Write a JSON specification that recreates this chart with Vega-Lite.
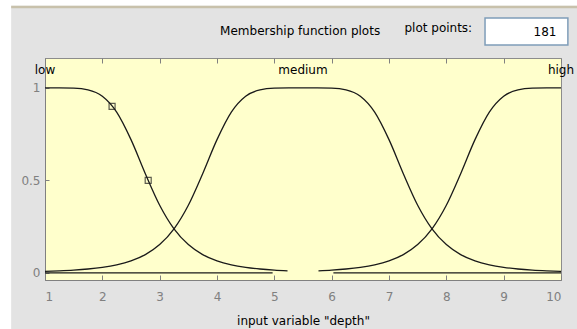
{
  "$schema": "https://vega.github.io/schema/vega-lite/v6.json",
  "width": 516,
  "height": 222,
  "autosize": {"type": "none"},
  "padding": {"left": 45, "top": 58, "right": 16, "bottom": 49},
  "background": "#e3e3e3",
  "config": {
    "view": {"fill": "#ffffcc", "stroke": "#8c8c8c", "strokeWidth": 1},
    "font": "DejaVu Sans"
  },
  "resolve": {"axis": {"x": "independent"}},
  "datasets": {
    "curves": [
      {"mf": "low", "x": 1, "y": 1},
      {"mf": "low", "x": 1.25, "y": 1},
      {"mf": "low", "x": 1.5, "y": 0.9987},
      {"mf": "low", "x": 1.75, "y": 0.9896},
      {"mf": "low", "x": 2, "y": 0.9551},
      {"mf": "low", "x": 2.25, "y": 0.8694},
      {"mf": "low", "x": 2.5, "y": 0.7207},
      {"mf": "low", "x": 2.75, "y": 0.5366},
      {"mf": "low", "x": 3, "y": 0.3663},
      {"mf": "low", "x": 3.25, "y": 0.2386},
      {"mf": "low", "x": 3.5, "y": 0.1534},
      {"mf": "low", "x": 3.75, "y": 0.0994},
      {"mf": "low", "x": 4, "y": 0.0656},
      {"mf": "low", "x": 4.25, "y": 0.0442},
      {"mf": "low", "x": 4.5, "y": 0.0305},
      {"mf": "low", "x": 4.75, "y": 0.0215},
      {"mf": "low", "x": 5, "y": 0.0155},
      {"mf": "low", "x": 5.23, "y": 0.0117},
      {"mf": "medium", "x": 1, "y": 0.0084},
      {"mf": "medium", "x": 1.25, "y": 0.0114},
      {"mf": "medium", "x": 1.5, "y": 0.0155},
      {"mf": "medium", "x": 1.75, "y": 0.0215},
      {"mf": "medium", "x": 2, "y": 0.0305},
      {"mf": "medium", "x": 2.25, "y": 0.0442},
      {"mf": "medium", "x": 2.5, "y": 0.0656},
      {"mf": "medium", "x": 2.75, "y": 0.0994},
      {"mf": "medium", "x": 3, "y": 0.1534},
      {"mf": "medium", "x": 3.25, "y": 0.2386},
      {"mf": "medium", "x": 3.5, "y": 0.3663},
      {"mf": "medium", "x": 3.75, "y": 0.5366},
      {"mf": "medium", "x": 4, "y": 0.7207},
      {"mf": "medium", "x": 4.25, "y": 0.8694},
      {"mf": "medium", "x": 4.5, "y": 0.9551},
      {"mf": "medium", "x": 4.75, "y": 0.9896},
      {"mf": "medium", "x": 5, "y": 0.9987},
      {"mf": "medium", "x": 5.25, "y": 1},
      {"mf": "medium", "x": 5.5, "y": 1},
      {"mf": "medium", "x": 5.75, "y": 1},
      {"mf": "medium", "x": 6, "y": 0.9987},
      {"mf": "medium", "x": 6.25, "y": 0.9896},
      {"mf": "medium", "x": 6.5, "y": 0.9551},
      {"mf": "medium", "x": 6.75, "y": 0.8694},
      {"mf": "medium", "x": 7, "y": 0.7207},
      {"mf": "medium", "x": 7.25, "y": 0.5366},
      {"mf": "medium", "x": 7.5, "y": 0.3663},
      {"mf": "medium", "x": 7.75, "y": 0.2386},
      {"mf": "medium", "x": 8, "y": 0.1534},
      {"mf": "medium", "x": 8.25, "y": 0.0994},
      {"mf": "medium", "x": 8.5, "y": 0.0656},
      {"mf": "medium", "x": 8.75, "y": 0.0442},
      {"mf": "medium", "x": 9, "y": 0.0305},
      {"mf": "medium", "x": 9.25, "y": 0.0215},
      {"mf": "medium", "x": 9.5, "y": 0.0155},
      {"mf": "medium", "x": 9.75, "y": 0.0114},
      {"mf": "medium", "x": 10, "y": 0.0084},
      {"mf": "high", "x": 5.77, "y": 0.0117},
      {"mf": "high", "x": 6, "y": 0.0155},
      {"mf": "high", "x": 6.25, "y": 0.0215},
      {"mf": "high", "x": 6.5, "y": 0.0305},
      {"mf": "high", "x": 6.75, "y": 0.0442},
      {"mf": "high", "x": 7, "y": 0.0656},
      {"mf": "high", "x": 7.25, "y": 0.0994},
      {"mf": "high", "x": 7.5, "y": 0.1534},
      {"mf": "high", "x": 7.75, "y": 0.2386},
      {"mf": "high", "x": 8, "y": 0.3663},
      {"mf": "high", "x": 8.25, "y": 0.5366},
      {"mf": "high", "x": 8.5, "y": 0.7207},
      {"mf": "high", "x": 8.75, "y": 0.8694},
      {"mf": "high", "x": 9, "y": 0.9551},
      {"mf": "high", "x": 9.25, "y": 0.9896},
      {"mf": "high", "x": 9.5, "y": 0.9987},
      {"mf": "high", "x": 9.75, "y": 1},
      {"mf": "high", "x": 10, "y": 1},
      {"mf": "high-tail", "x": 1, "y": 0},
      {"mf": "high-tail", "x": 4.97, "y": 0},
      {"mf": "low-tail", "x": 6.03, "y": 0},
      {"mf": "low-tail", "x": 10, "y": 0}
    ],
    "handles": [
      {"x": 2.17, "y": 0.9},
      {"x": 2.8, "y": 0.5}
    ],
    "names": [
      {"x": 1, "y": 1.097, "label": "low"},
      {"x": 5.5, "y": 1.097, "label": "medium"},
      {"x": 10, "y": 1.097, "label": "high"}
    ],
    "header": [
      {"x": 5.45, "y": 1.308, "label": "Membership function plots"},
      {"x": 7.86, "y": 1.322, "label": "plot points:"}
    ],
    "box": [
      {"x": 8.675, "x2": 10.12, "y": 1.232, "y2": 1.378, "value": "181", "xr": 9.92, "ym": 1.303}
    ],
    "frame": [
      {"x": 0.41, "x2": 10.3, "y": 1.438}
    ],
    "whiteLeft": [
      {"x": 0.2, "x2": 0.41, "y": -0.31, "y2": 1.48}
    ],
    "whiteTop": [
      {"x": 0.2, "x2": 10.3, "y": 1.444, "y2": 1.48}
    ]
  },
  "layer": [
    {
      "data": {"name": "whiteLeft"},
      "mark": {"type": "rect", "color": "#ffffff", "clip": false},
      "encoding": {
        "x": {"field": "x", "type": "quantitative", "axis": null, "scale": {"domain": [1, 10], "nice": false, "zero": false}},
        "x2": {"field": "x2"},
        "y": {"field": "y", "type": "quantitative", "scale": {"domain": [-0.038, 1.162], "nice": false, "zero": false}},
        "y2": {"field": "y2"}
      }
    },
    {
      "data": {"name": "whiteTop"},
      "mark": {"type": "rect", "color": "#ffffff", "clip": false},
      "encoding": {
        "x": {"field": "x", "type": "quantitative", "axis": null},
        "x2": {"field": "x2"},
        "y": {"field": "y", "type": "quantitative"},
        "y2": {"field": "y2"}
      }
    },
    {
      "data": {"name": "frame"},
      "mark": {"type": "rule", "color": "#c8c1ab", "strokeWidth": 2.5, "clip": false},
      "encoding": {
        "x": {"field": "x", "type": "quantitative", "axis": null},
        "x2": {"field": "x2"},
        "y": {"field": "y", "type": "quantitative"}
      }
    },
    {
      "data": {"name": "curves"},
      "mark": {"type": "line", "color": "#1a1a1a", "strokeWidth": 1.3, "interpolate": "monotone"},
      "encoding": {
        "x": {
          "field": "x", "type": "quantitative",
          "scale": {"domain": [1, 10], "nice": false, "zero": false},
          "axis": {
            "values": [1, 2, 3, 4, 5, 6, 7, 8, 9, 10],
            "title": "input variable \"depth\"",
            "titleFontSize": 12, "titleFontWeight": "normal", "titleColor": "#000000", "titlePadding": 13,
            "labelFontSize": 12, "labelColor": "#808080", "labelPadding": 16,
            "tickSize": -5, "tickColor": "#808080", "domainColor": "#808080", "grid": false
          }
        },
        "y": {
          "field": "y", "type": "quantitative",
          "scale": {"domain": [-0.038, 1.162], "nice": false, "zero": false},
          "axis": {
            "values": [0, 0.5, 1],
            "format": "~g",
            "title": null,
            "labelFontSize": 12, "labelColor": "#808080", "labelPadding": 9,
            "tickSize": -4, "tickColor": "#808080", "domainColor": "#808080", "grid": false
          }
        },
        "detail": {"field": "mf"}
      }
    },
    {
      "data": {"name": "handles"},
      "mark": {"type": "point", "shape": "square", "filled": false, "color": "#1a1a1a", "size": 36, "strokeWidth": 1.2},
      "encoding": {
        "x": {"field": "x", "type": "quantitative", "axis": null},
        "y": {"field": "y", "type": "quantitative"}
      }
    },
    {
      "data": {"name": "names"},
      "mark": {"type": "text", "fontSize": 12, "color": "#000000", "align": "center", "baseline": "middle", "clip": false},
      "encoding": {
        "x": {"field": "x", "type": "quantitative", "axis": {"orient": "top", "values": [1, 2, 3, 4, 5, 6, 7, 8, 9, 10], "labels": false, "domain": false, "title": null, "tickSize": -5, "tickColor": "#808080", "grid": false}},
        "y": {"field": "y", "type": "quantitative"},
        "text": {"field": "label"}
      }
    },
    {
      "data": {"name": "header"},
      "mark": {"type": "text", "fontSize": 12, "color": "#000000", "align": "center", "baseline": "middle", "clip": false},
      "encoding": {
        "x": {"field": "x", "type": "quantitative", "axis": null},
        "y": {"field": "y", "type": "quantitative"},
        "text": {"field": "label"}
      }
    },
    {
      "data": {"name": "box"},
      "mark": {"type": "rect", "fill": "#ffffff", "stroke": "#7f9db9", "strokeWidth": 1.5, "clip": false},
      "encoding": {
        "x": {"field": "x", "type": "quantitative", "axis": null},
        "x2": {"field": "x2"},
        "y": {"field": "y", "type": "quantitative"},
        "y2": {"field": "y2"}
      }
    },
    {
      "data": {"name": "box"},
      "mark": {"type": "text", "fontSize": 12, "color": "#000000", "align": "right", "baseline": "middle", "clip": false},
      "encoding": {
        "x": {"field": "xr", "type": "quantitative", "axis": null},
        "y": {"field": "ym", "type": "quantitative"},
        "text": {"field": "value"}
      }
    }
  ]
}
